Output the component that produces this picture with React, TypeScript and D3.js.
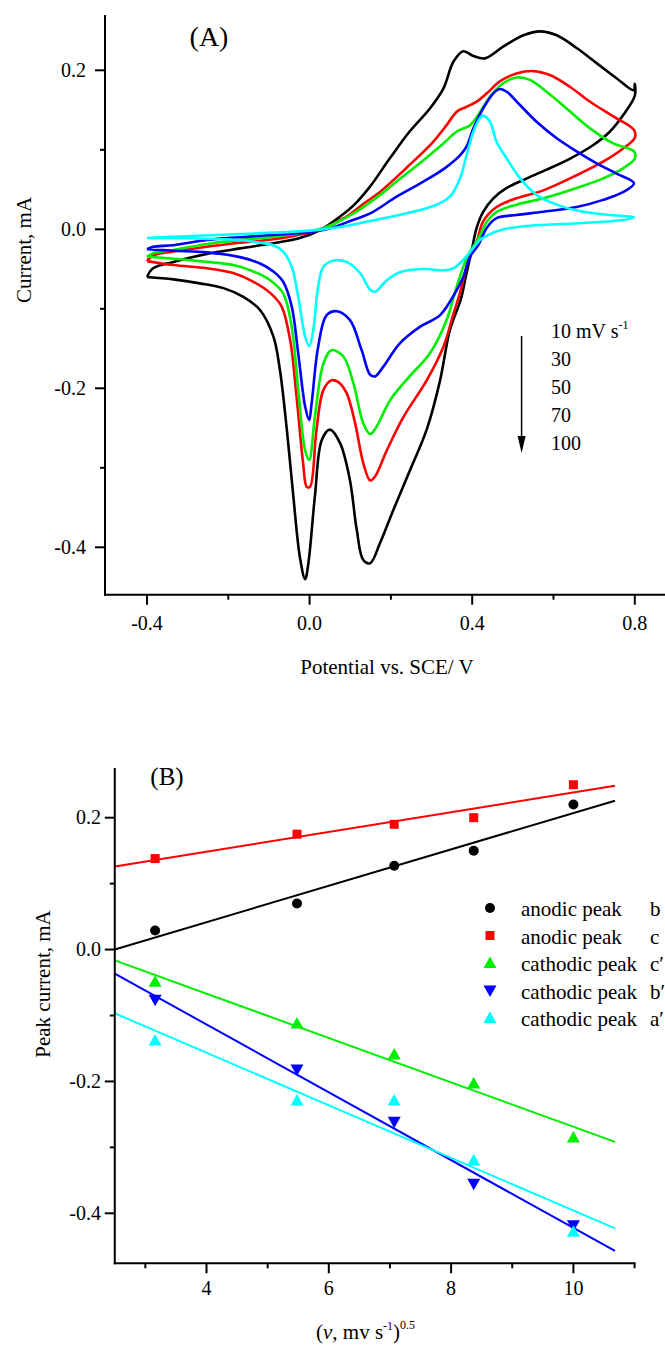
import React from "react";
import * as d3 from "d3";

// ---------- Panel A: cyclic voltammograms (E / V vs. SCE, I / mA) ----------
// Each loop: forward (anodic) sweep -0.4 -> 0.8 V, then the return sweep back to -0.4 V.
const cv100: [number, number][] = [
  [-0.4, -0.06], [-0.385, -0.049], [-0.335, -0.041], [-0.253, -0.031], [-0.171, -0.024],
  [-0.089, -0.0176], [-0.024, -0.011], [0.026, -0.001], [0.075, 0.016], [0.112, 0.032],
  [0.149, 0.054], [0.197, 0.089], [0.246, 0.123], [0.296, 0.152], [0.329, 0.177],
  [0.354, 0.211], [0.378, 0.224], [0.403, 0.218], [0.431, 0.215], [0.477, 0.23],
  [0.526, 0.244], [0.567, 0.249], [0.608, 0.244], [0.657, 0.228], [0.706, 0.209],
  [0.755, 0.19], [0.797, 0.175], [0.8, 0.183],
  [0.8, 0.168], [0.772, 0.144], [0.739, 0.123], [0.698, 0.106], [0.641, 0.089],
  [0.583, 0.075], [0.526, 0.062], [0.485, 0.052], [0.452, 0.039], [0.427, 0.022],
  [0.411, 0.002], [0.399, -0.026], [0.384, -0.06], [0.372, -0.088], [0.345, -0.127],
  [0.321, -0.19], [0.288, -0.252], [0.247, -0.303], [0.206, -0.353], [0.173, -0.395],
  [0.149, -0.42], [0.132, -0.416], [0.116, -0.378], [0.099, -0.315], [0.075, -0.269],
  [0.05, -0.252], [0.03, -0.265], [0.013, -0.336], [-0.003, -0.42], [-0.011, -0.44],
  [-0.024, -0.412], [-0.04, -0.336], [-0.056, -0.252], [-0.073, -0.177], [-0.089, -0.135],
  [-0.122, -0.1015], [-0.163, -0.085], [-0.212, -0.074], [-0.27, -0.068], [-0.335, -0.063],
  [-0.4, -0.06],
];

const cv70: [number, number][] = [
  [-0.4, -0.04], [-0.385, -0.033], [-0.335, -0.028], [-0.253, -0.022], [-0.171, -0.017],
  [-0.089, -0.0126], [-0.007, -0.005], [0.034, 0.001], [0.091, 0.016], [0.135, 0.033],
  [0.173, 0.047], [0.246, 0.081], [0.304, 0.11], [0.337, 0.131], [0.362, 0.148],
  [0.386, 0.154], [0.411, 0.1605], [0.436, 0.171], [0.468, 0.186], [0.509, 0.196],
  [0.55, 0.199], [0.591, 0.194], [0.641, 0.179], [0.69, 0.1605], [0.747, 0.142],
  [0.798, 0.125],
  [0.8, 0.115], [0.772, 0.102], [0.722, 0.085], [0.657, 0.068], [0.575, 0.049],
  [0.509, 0.039], [0.46, 0.028], [0.427, 0.01], [0.411, -0.016], [0.39, -0.04],
  [0.37, -0.08], [0.354, -0.106], [0.329, -0.148], [0.288, -0.19], [0.231, -0.236],
  [0.19, -0.278], [0.161, -0.311], [0.149, -0.316], [0.132, -0.294], [0.112, -0.244],
  [0.091, -0.206], [0.07, -0.192], [0.054, -0.19], [0.034, -0.202], [0.017, -0.252],
  [0.001, -0.324], [-0.007, -0.324], [-0.016, -0.294], [-0.032, -0.211], [-0.048, -0.139],
  [-0.069, -0.097], [-0.097, -0.08], [-0.138, -0.066], [-0.188, -0.055], [-0.253, -0.049],
  [-0.335, -0.045], [-0.4, -0.04],
];

const cv50: [number, number][] = [
  [-0.4, -0.0345], [-0.385, -0.03], [-0.335, -0.026], [-0.253, -0.0185], [-0.171, -0.0135],
  [-0.089, -0.0093], [-0.007, -0.003], [0.042, 0.003], [0.108, 0.02], [0.173, 0.043],
  [0.214, 0.06], [0.28, 0.087], [0.329, 0.108], [0.362, 0.123], [0.395, 0.131],
  [0.415, 0.144], [0.444, 0.167], [0.477, 0.184], [0.509, 0.191], [0.542, 0.188],
  [0.583, 0.173], [0.632, 0.152], [0.69, 0.127], [0.747, 0.108], [0.798, 0.098],
  [0.8, 0.089], [0.772, 0.077], [0.722, 0.064], [0.657, 0.052], [0.575, 0.039],
  [0.509, 0.031], [0.46, 0.022], [0.436, 0.0096], [0.415, -0.012], [0.39, -0.032],
  [0.362, -0.072], [0.337, -0.114], [0.296, -0.156], [0.246, -0.185], [0.198, -0.215],
  [0.165, -0.248], [0.149, -0.2575], [0.132, -0.244], [0.108, -0.194], [0.083, -0.16],
  [0.054, -0.152], [0.034, -0.169], [0.013, -0.236], [-0.001, -0.29], [-0.011, -0.278],
  [-0.028, -0.202], [-0.044, -0.1225], [-0.065, -0.0805], [-0.097, -0.064], [-0.138, -0.053],
  [-0.188, -0.045], [-0.253, -0.041], [-0.335, -0.037], [-0.4, -0.0345],
];

const cv30: [number, number][] = [
  [-0.4, -0.025], [-0.385, -0.022], [-0.335, -0.02], [-0.253, -0.0135], [-0.171, -0.01],
  [-0.089, -0.007], [-0.007, -0.004], [0.042, 0.0], [0.108, 0.012], [0.149, 0.02],
  [0.214, 0.041], [0.28, 0.06], [0.333, 0.077], [0.37, 0.093], [0.386, 0.104],
  [0.403, 0.127], [0.427, 0.152], [0.452, 0.171], [0.468, 0.1765], [0.485, 0.173],
  [0.518, 0.156], [0.559, 0.135], [0.608, 0.1145], [0.657, 0.098], [0.706, 0.083],
  [0.755, 0.07], [0.798, 0.058],
  [0.772, 0.047], [0.722, 0.037], [0.657, 0.028], [0.575, 0.022], [0.509, 0.018],
  [0.46, 0.014], [0.436, 0.002], [0.415, -0.02], [0.395, -0.034], [0.378, -0.06],
  [0.358, -0.08], [0.321, -0.108], [0.272, -0.1225], [0.222, -0.1435], [0.181, -0.173],
  [0.161, -0.185], [0.149, -0.183], [0.128, -0.152], [0.099, -0.114], [0.067, -0.103],
  [0.042, -0.108], [0.021, -0.148], [0.005, -0.219], [-0.001, -0.24], [-0.011, -0.223],
  [-0.028, -0.156], [-0.044, -0.097], [-0.065, -0.066], [-0.089, -0.053], [-0.122, -0.043],
  [-0.171, -0.035], [-0.253, -0.029], [-0.335, -0.027], [-0.4, -0.025],
];

const cv10: [number, number][] = [
  [-0.4, -0.011], [-0.335, -0.0093], [-0.171, -0.006], [-0.007, -0.002], [0.075, 0.003],
  [0.173, 0.013], [0.255, 0.022], [0.313, 0.031], [0.345, 0.041], [0.37, 0.064],
  [0.386, 0.093], [0.403, 0.123], [0.419, 0.14], [0.427, 0.143], [0.444, 0.135],
  [0.46, 0.11], [0.485, 0.089], [0.518, 0.064], [0.559, 0.043], [0.608, 0.031],
  [0.673, 0.022], [0.739, 0.018], [0.798, 0.015],
  [0.772, 0.0117], [0.673, 0.008], [0.542, 0.0045], [0.477, 0.0], [0.436, -0.008],
  [0.419, -0.0135], [0.386, -0.034], [0.354, -0.049], [0.329, -0.0515], [0.288, -0.05],
  [0.25, -0.051], [0.222, -0.054], [0.19, -0.064], [0.161, -0.0785], [0.149, -0.076],
  [0.124, -0.055], [0.091, -0.041], [0.058, -0.0395], [0.034, -0.047], [0.021, -0.072],
  [0.009, -0.127], [-0.001, -0.147], [-0.011, -0.135], [-0.028, -0.085], [-0.044, -0.047],
  [-0.065, -0.028], [-0.089, -0.02], [-0.122, -0.017], [-0.171, -0.0135], [-0.253, -0.012],
  [-0.335, -0.011], [-0.4, -0.011],
];

const cvSeries = [
  { rate: 100, color: "#000000", data: cv100 },
  { rate: 70, color: "#ff0000", data: cv70 },
  { rate: 50, color: "#00ee00", data: cv50 },
  { rate: 30, color: "#0000ff", data: cv30 },
  { rate: 10, color: "#00ffff", data: cv10 },
];

const rateLabels = ["10 mV s", "30", "50", "70", "100"];

const potentialTicks = [-0.4, 0.0, 0.4, 0.8];
const potentialMinor = [-0.2, 0.2, 0.6];
const currentTicks = [-0.4, -0.2, 0.0, 0.2];
const currentMinor = [-0.3, -0.1, 0.1];

// ---------- Panel B: peak current vs. square root of scan rate ----------
const sqrtRate = [3.16, 5.48, 7.07, 8.37, 10.0];
const anodicB = [0.029, 0.07, 0.127, 0.15, 0.22];
const anodicC = [0.138, 0.175, 0.19, 0.2, 0.25];
const cathodicC = [-0.049, -0.112, -0.159, -0.203, -0.285];
const cathodicB = [-0.076, -0.182, -0.261, -0.355, -0.418];
const cathodicA = [-0.138, -0.229, -0.229, -0.32, -0.428];

const peakSeries = [
  { name: "anodic peak", tag: "b", color: "#000000", marker: "circle", values: anodicB },
  { name: "anodic peak", tag: "c", color: "#ff0000", marker: "square", values: anodicC },
  { name: "cathodic peak", tag: "c\u2032", color: "#00ee00", marker: "up", values: cathodicC },
  { name: "cathodic peak", tag: "b\u2032", color: "#0000ff", marker: "down", values: cathodicB },
  { name: "cathodic peak", tag: "a\u2032", color: "#00ffff", marker: "up", values: cathodicA },
];

const rootTicks = [4, 6, 8, 10];
const rootMinor = [3, 5, 7, 9, 11];
const peakTicks = [-0.4, -0.2, 0.0, 0.2];
const peakMinor = [-0.3, -0.1, 0.1];
const fitRange = [2.5, 10.68];

const FONT = "'Liberation Serif', 'Times New Roman', serif";

function linearFit(xs: number[], ys: number[]) {
  const mx = d3.mean(xs)!;
  const my = d3.mean(ys)!;
  let sxy = 0;
  let sxx = 0;
  xs.forEach((x, i) => {
    sxy += (x - mx) * (ys[i] - my);
    sxx += (x - mx) * (x - mx);
  });
  const slope = sxy / sxx;
  return { slope, intercept: my - slope * mx };
}

function Marker({ type, x, y, color }: { type: string; x: number; y: number; color: string }) {
  if (type === "circle") return <circle cx={x} cy={y} r={5} fill={color} />;
  if (type === "square") return <rect x={x - 4.5} y={y - 4.5} width={9} height={9} fill={color} />;
  if (type === "up")
    return <path d={`M${x},${y - 6.5}L${x + 6.5},${y + 5}L${x - 6.5},${y + 5}Z`} fill={color} />;
  return <path d={`M${x},${y + 6.5}L${x + 6.5},${y - 5}L${x - 6.5},${y - 5}Z`} fill={color} />;
}

export default function App() {
  // Panel A scales
  const xA = d3.scaleLinear().domain([-0.4, 0.8]).range([147.0, 634.8]);
  const yA = d3.scaleLinear().domain([-0.4, 0.2]).range([547.3, 70.3]);
  const axA = { left: 105, right: 665, top: 15, bottom: 594.7 };

  // Panel B scales
  const xB = d3.scaleLinear().domain([4, 10]).range([206.5, 573.4]);
  const yB = d3.scaleLinear().domain([-0.4, 0.2]).range([1213.3, 817.7]);
  const axB = { left: xB(2.5), right: xB(11), top: 768, bottom: 1263.3 };

  const cvLine = d3
    .line<[number, number]>()
    .x((d) => xA(d[0]))
    .y((d) => yA(d[1]))
    .curve(d3.curveCatmullRom.alpha(0.5));

  const fitLine = d3
    .line<number>()
    .x((d) => xB(d));

  const legendRows = [908, 935.5, 963, 990.5, 1018];

  return (
    <svg
      width={665}
      height={1348}
      style={{ position: "absolute", left: 0, top: 0, background: "#fff" }}
      fontFamily={FONT}
    >
      <rect x={0} y={0} width={665} height={1348} fill="#fff" />

      {/* ---------------- Panel A ---------------- */}
      <g>
        {cvSeries.map((s) => (
          <path
            key={s.rate}
            d={cvLine(s.data) || ""}
            fill="none"
            stroke={s.color}
            strokeWidth={2.6}
            strokeLinejoin="round"
          />
        ))}

        {/* axes */}
        <line x1={axA.left} x2={axA.left} y1={axA.top} y2={axA.bottom + 1} stroke="#000" strokeWidth={2} />
        <line x1={axA.left - 1} x2={axA.right} y1={axA.bottom} y2={axA.bottom} stroke="#000" strokeWidth={2} />
        {potentialTicks.map((t) => (
          <g key={"pa" + t}>
            <line x1={xA(t)} x2={xA(t)} y1={axA.bottom} y2={axA.bottom + 10} stroke="#000" strokeWidth={2} />
            <text x={xA(t)} y={630} fontSize={20} textAnchor="middle">
              {t.toFixed(1)}
            </text>
          </g>
        ))}
        {potentialMinor.map((t) => (
          <line key={"pm" + t} x1={xA(t)} x2={xA(t)} y1={axA.bottom} y2={axA.bottom + 5} stroke="#000" strokeWidth={2} />
        ))}
        {currentTicks.map((t) => (
          <g key={"ca" + t}>
            <line x1={axA.left - 10} x2={axA.left} y1={yA(t)} y2={yA(t)} stroke="#000" strokeWidth={2} />
            <text x={86} y={yA(t) + 7} fontSize={20} textAnchor="end">
              {t.toFixed(1)}
            </text>
          </g>
        ))}
        {currentMinor.map((t) => (
          <line key={"cm" + t} x1={axA.left - 5} x2={axA.left} y1={yA(t)} y2={yA(t)} stroke="#000" strokeWidth={2} />
        ))}

        <text x={387} y={674} fontSize={21} textAnchor="middle">
          Potential vs. SCE/ V
        </text>
        <text transform="translate(31,250) rotate(-90)" fontSize={21} textAnchor="middle">
          Current, mA
        </text>
        <text x={209} y={46} fontSize={28} textAnchor="middle">
          (A)
        </text>

        {/* scan-rate key */}
        <line x1={521.6} x2={521.6} y1={336} y2={440} stroke="#000" strokeWidth={1.5} />
        <path d="M517.6,436 L525.6,436 L521.6,453 Z" fill="#000" />
        {rateLabels.map((r, i) => (
          <text key={r} x={551} y={338 + i * 28} fontSize={20}>
            {r}
            {i === 0 && (
              <tspan fontSize={12} dy={-9}>
                -1
              </tspan>
            )}
          </text>
        ))}
      </g>

      {/* ---------------- Panel B ---------------- */}
      <g>
        {peakSeries.map((s) => {
          const fit = linearFit(sqrtRate, s.values);
          const line = fitLine.y((x) => yB(fit.intercept + fit.slope * x));
          return (
            <path key={s.tag + s.name} d={line(fitRange) || ""} fill="none" stroke={s.color} strokeWidth={2} />
          );
        })}
        {peakSeries.map((s) =>
          s.values.map((v, i) => (
            <Marker key={s.tag + i} type={s.marker} x={xB(sqrtRate[i])} y={yB(v)} color={s.color} />
          ))
        )}

        {/* axes */}
        <line x1={axB.left} x2={axB.left} y1={axB.top} y2={axB.bottom + 1} stroke="#000" strokeWidth={2} />
        <line x1={axB.left - 1} x2={axB.right + 1} y1={axB.bottom} y2={axB.bottom} stroke="#000" strokeWidth={2} />
        {rootTicks.map((t) => (
          <g key={"ra" + t}>
            <line x1={xB(t)} x2={xB(t)} y1={axB.bottom} y2={axB.bottom + 10} stroke="#000" strokeWidth={2} />
            <text x={xB(t)} y={1295} fontSize={20} textAnchor="middle">
              {t}
            </text>
          </g>
        ))}
        {rootMinor.map((t) => (
          <line key={"rm" + t} x1={xB(t)} x2={xB(t)} y1={axB.bottom} y2={axB.bottom + 5} stroke="#000" strokeWidth={2} />
        ))}
        {peakTicks.map((t) => (
          <g key={"pk" + t}>
            <line x1={axB.left - 10} x2={axB.left} y1={yB(t)} y2={yB(t)} stroke="#000" strokeWidth={2} />
            <text x={101} y={yB(t) + 6.5} fontSize={20} textAnchor="end">
              {t.toFixed(1)}
            </text>
          </g>
        ))}
        {peakMinor.map((t) => (
          <line key={"pkm" + t} x1={axB.left - 5} x2={axB.left} y1={yB(t)} y2={yB(t)} stroke="#000" strokeWidth={2} />
        ))}

        <text x={316} y={1339} fontSize={21}>
          (<tspan fontStyle="italic">{"\u03BD"}</tspan>, mv s
          <tspan fontSize={12} dy={-9}>
            -1
          </tspan>
          <tspan dy={9}>)</tspan>
          <tspan fontSize={12} dy={-10}>
            0.5
          </tspan>
        </text>
        <text transform="translate(50,984) rotate(-90)" fontSize={21} textAnchor="middle">
          Peak current, mA
        </text>
        <text x={167} y={785} fontSize={25} textAnchor="middle">
          (B)
        </text>

        {/* legend */}
        {peakSeries.map((s, i) => (
          <g key={"lg" + i}>
            <Marker type={s.marker} x={490} y={legendRows[i]} color={s.color} />
            <text x={521} y={legendRows[i] + 8} fontSize={21}>
              {s.name}
            </text>
            <text x={650} y={legendRows[i] + 8} fontSize={21}>
              {s.tag}
            </text>
          </g>
        ))}
      </g>
    </svg>
  );
}
